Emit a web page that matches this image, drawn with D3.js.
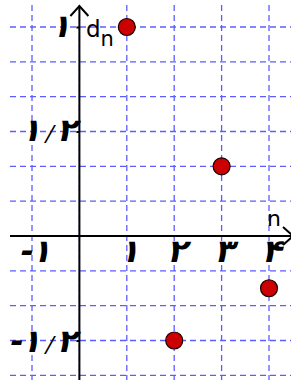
<!DOCTYPE html>
<html>
<head>
<meta charset="utf-8">
<script src="https://cdn.jsdelivr.net/npm/d3@7"></script>
<style>
  html, body { margin: 0; padding: 0; background: #fff; }
  svg { display: block; }
  .tick text { font-family: "DejaVu Sans", sans-serif; font-weight: bold; font-size: 32px; fill: #000; }
  .tick text .slash { font-weight: normal; font-size: 22px; }
  .axisName { font-family: "DejaVu Sans", sans-serif; fill: #000; }
</style>
</head>
<body>
<svg width="291" height="380"></svg>
<script>
const svg = d3.select("svg");
var width = +svg.attr("width");
var height = +svg.attr("height");

// the sequence d_n
const nValues = [1, 2, 3, 4];
const dValues = [1, -1 / 2, 1 / 3, -1 / 4];

// tick labels (persian digits)
const xTicks = [-1, 1, 2, 3, 4];
const xTickLabels = ["-۱", "۱", "۲", "۳", "۴"];
const yTicks = [1, 0.5, -0.5];
const yTickLabels = ["۱", "۱ / ۲", "-۱ / ۲"];

// grid every 1 in x, every 1/6 in y
const xGrid = [-1, 0, 1, 2, 3, 4];
const yGrid = [-4, -3, -2, -1, 0, 1, 2, 3, 4, 5, 6].map((k) => k / 6);

var x = d3.scaleLinear().domain([-1, 4]).range([32, 269]);
var y = d3.scaleLinear().domain([-0.5, 1]).range([340.5, 27]);

const GRID_COLOR = "#5d5dff";
const SLANT = -14; //labels are drawn slanted like the original

// grid
var grid = svg.append("g").attr("class", "grid");
grid
  .selectAll("line.gx")
  .data(xGrid)
  .join("line")
  .attr("class", "gx")
  .attr("x1", (d) => x(d))
  .attr("x2", (d) => x(d))
  .attr("y1", 5)
  .attr("y2", height)
  .attr("stroke", GRID_COLOR)
  .attr("stroke-width", 1.3)
  .attr("stroke-dasharray", "6,4");
grid
  .selectAll("line.gy")
  .data(yGrid)
  .join("line")
  .attr("class", "gy")
  .attr("x1", 10)
  .attr("x2", width)
  .attr("y1", (d) => y(d))
  .attr("y2", (d) => y(d))
  .attr("stroke", GRID_COLOR)
  .attr("stroke-width", 1.3)
  .attr("stroke-dasharray", "6,4");

// axes lines with arrows
var axes = svg.append("g").attr("stroke", "#000").attr("stroke-width", 2).attr("fill", "none");
axes.append("line").attr("x1", 10).attr("x2", width + 2).attr("y1", y(0)).attr("y2", y(0));
axes.append("line").attr("x1", x(0)).attr("x2", x(0)).attr("y1", 6).attr("y2", height);
axes
  .append("path")
  .attr("d", `M${x(0) - 9},${16} L${x(0)},${6} L${x(0) + 9},${16}`);
axes
  .append("path")
  .attr("d", `M${width - 8},${y(0) - 9} L${width + 2},${y(0)} L${width - 8},${y(0) + 9}`);

// split "a / b" so the slash can be thinner
function styleLabel(sel) {
  sel.each(function () {
    let t = d3.select(this);
    let s = t.text();
    if (s.indexOf("/") < 0) return;
    let parts = s.split(" / ");
    t.text(null);
    t.append("tspan").text(parts[0]);
    t.append("tspan").attr("class", "slash").attr("dx", 4).text("/");
    t.append("tspan").attr("dx", 5).text(parts[1]);
  });
}

// tick labels through d3 axes
var xAxis = d3
  .axisBottom(x)
  .tickValues(xTicks)
  .tickSize(0)
  .tickFormat((d, i) => xTickLabels[i]);
var gx = svg.append("g").attr("transform", `translate(0,${y(0)})`).call(xAxis);
gx.select(".domain").remove();
gx.selectAll(".tick text")
  .attr("y", 0)
  .attr("dy", 0)
  .attr("transform", `translate(2,26) skewX(${SLANT})`);

var yAxis = d3
  .axisLeft(y)
  .tickValues(yTicks)
  .tickSize(3)
  .tickFormat((d, i) => yTickLabels[i]);
var gy = svg.append("g").attr("transform", `translate(${x(0)},0)`).call(yAxis);
gy.select(".domain").remove();
gy.selectAll(".tick line").attr("stroke", "#000").attr("stroke-width", 2);
gy.selectAll(".tick text")
  .attr("x", 0)
  .attr("dy", 0)
  .attr("transform", (d) => `translate(${d === 1 ? -9 : -3},${d < 0 ? 11 : 9}) skewX(${SLANT})`)
  .call(styleLabel);

// axis names
var dn = svg.append("text").attr("class", "axisName").attr("x", 86).attr("y", 37).style("font-size", "23px");
dn.append("tspan").text("d");
dn.append("tspan").attr("dy", 9).style("font-size", "21px").text("n");
svg
  .append("text")
  .attr("class", "axisName")
  .attr("x", 267)
  .attr("y", 226)
  .style("font-size", "22px")
  .text("n");

// points
svg
  .append("g")
  .selectAll("circle")
  .data(nValues)
  .join("circle")
  .attr("cx", (d) => x(d))
  .attr("cy", (d, i) => y(dValues[i]))
  .attr("r", 8.5)
  .attr("fill", "#cc0000")
  .attr("stroke", "#1a0000")
  .attr("stroke-width", 1.2);
</script>
</body>
</html>
